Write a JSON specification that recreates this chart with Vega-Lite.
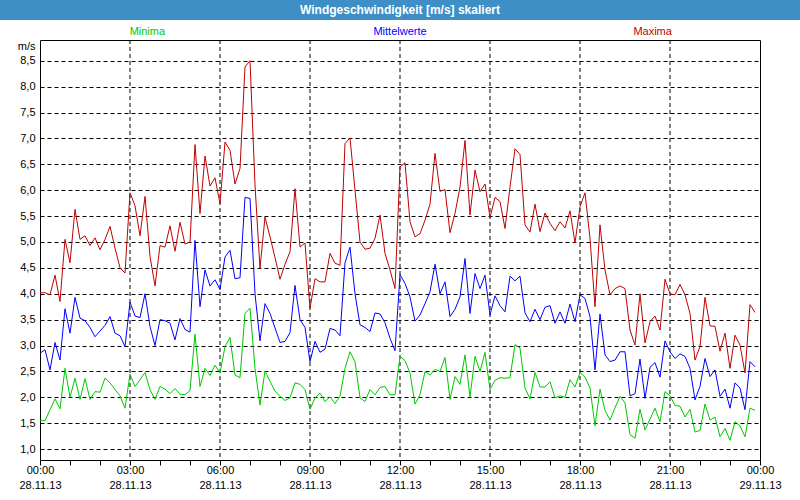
{
"$schema": "https://vega.github.io/schema/vega-lite/v6.json",
"padding": 0,
"background": "white",
"bounds": "flush",
"center": true,
"spacing": 0,
"config": {"font": "Liberation Sans", "view": {"stroke": "black", "strokeWidth": 1}, "axis": {"labelOverlap": false}},
"vconcat": [
{
"width": 800, "height": 20,
"view": {"fill": "#3d8fc6", "stroke": null},
"data": {"values": [{"titel": "Windgeschwindigkeit [m/s] skaliert"}]},
"mark": {"type": "text", "color": "white", "fontWeight": "bold", "fontSize": 12, "font": "Liberation Sans"},
"encoding": {"text": {"field": "titel"}}
},
{
"width": 720, "height": 20,
"view": {"stroke": null},
"data": {"values": [{"serie": "Minima"}, {"serie": "Mittelwerte"}, {"serie": "Maxima"}]},
"mark": {"type": "text", "fontSize": 11, "dy": 2},
"encoding": {
"x": {"field": "serie", "type": "nominal", "sort": ["Minima", "Mittelwerte", "Maxima"], "scale": {"type": "point", "padding": 0.425}, "axis": null},
"text": {"field": "serie"},
"color": {"field": "serie", "type": "nominal", "scale": {"domain": ["Minima", "Mittelwerte", "Maxima"], "range": ["#00c800", "#0000ff", "#c00000"]}, "legend": null}
}
},
{
"width": 720, "height": 420,
"resolve": {"axis": {"x": "independent"}},
"layer": [
{
"data": {"values": [{"g":"2013-11-28T03:00"},{"g":"2013-11-28T06:00"},{"g":"2013-11-28T09:00"},{"g":"2013-11-28T12:00"},{"g":"2013-11-28T15:00"},{"g":"2013-11-28T18:00"},{"g":"2013-11-28T21:00"}]},
"mark": {"type": "rule", "color": "black", "strokeWidth": 1, "strokeDash": [4, 3]},
"encoding": {"x": {"field": "g", "type": "temporal",
 "axis": {"orient": "bottom", "title": null, "domain": false, "grid": false, "labels": false, "tickSize": 5, "tickColor": "black",
  "values": [{"year":2013,"month":11,"date":28,"hours":0},{"year":2013,"month":11,"date":28,"hours":1},{"year":2013,"month":11,"date":28,"hours":2},{"year":2013,"month":11,"date":28,"hours":3},{"year":2013,"month":11,"date":28,"hours":4},{"year":2013,"month":11,"date":28,"hours":5},{"year":2013,"month":11,"date":28,"hours":6},{"year":2013,"month":11,"date":28,"hours":7},{"year":2013,"month":11,"date":28,"hours":8},{"year":2013,"month":11,"date":28,"hours":9},{"year":2013,"month":11,"date":28,"hours":10},{"year":2013,"month":11,"date":28,"hours":11},{"year":2013,"month":11,"date":28,"hours":12},{"year":2013,"month":11,"date":28,"hours":13},{"year":2013,"month":11,"date":28,"hours":14},{"year":2013,"month":11,"date":28,"hours":15},{"year":2013,"month":11,"date":28,"hours":16},{"year":2013,"month":11,"date":28,"hours":17},{"year":2013,"month":11,"date":28,"hours":18},{"year":2013,"month":11,"date":28,"hours":19},{"year":2013,"month":11,"date":28,"hours":20},{"year":2013,"month":11,"date":28,"hours":21},{"year":2013,"month":11,"date":28,"hours":22},{"year":2013,"month":11,"date":28,"hours":23},{"year":2013,"month":11,"date":29,"hours":0}]}}}
},
{
"data": {"values": [
{"t":"2013-11-28T00:00","Minima":1.55,"Mittelwerte":2.85,"Maxima":4.02},
{"t":"2013-11-28T00:10","Minima":1.55,"Mittelwerte":2.92,"Maxima":4.02},
{"t":"2013-11-28T00:20","Minima":1.76,"Mittelwerte":2.53,"Maxima":3.98},
{"t":"2013-11-28T00:30","Minima":1.97,"Mittelwerte":3.06,"Maxima":4.36},
{"t":"2013-11-28T00:40","Minima":1.78,"Mittelwerte":2.72,"Maxima":3.85},
{"t":"2013-11-28T00:50","Minima":2.56,"Mittelwerte":3.71,"Maxima":5.05},
{"t":"2013-11-28T01:00","Minima":2.0,"Mittelwerte":3.24,"Maxima":4.6},
{"t":"2013-11-28T01:10","Minima":2.37,"Mittelwerte":3.93,"Maxima":5.63},
{"t":"2013-11-28T01:20","Minima":1.96,"Mittelwerte":3.53,"Maxima":5.05},
{"t":"2013-11-28T01:30","Minima":2.36,"Mittelwerte":3.48,"Maxima":5.12},
{"t":"2013-11-28T01:40","Minima":1.96,"Mittelwerte":3.35,"Maxima":4.93},
{"t":"2013-11-28T01:50","Minima":2.11,"Mittelwerte":3.17,"Maxima":5.08},
{"t":"2013-11-28T02:00","Minima":2.1,"Mittelwerte":3.28,"Maxima":4.85},
{"t":"2013-11-28T02:10","Minima":2.37,"Mittelwerte":3.39,"Maxima":5.05},
{"t":"2013-11-28T02:20","Minima":2.28,"Mittelwerte":3.56,"Maxima":5.3},
{"t":"2013-11-28T02:30","Minima":2.15,"Mittelwerte":3.24,"Maxima":4.88},
{"t":"2013-11-28T02:40","Minima":2.03,"Mittelwerte":3.19,"Maxima":4.5},
{"t":"2013-11-28T02:50","Minima":1.79,"Mittelwerte":2.98,"Maxima":4.4},
{"t":"2013-11-28T03:00","Minima":2.45,"Mittelwerte":3.84,"Maxima":5.95},
{"t":"2013-11-28T03:10","Minima":2.21,"Mittelwerte":3.57,"Maxima":5.7},
{"t":"2013-11-28T03:20","Minima":2.34,"Mittelwerte":3.54,"Maxima":5.12},
{"t":"2013-11-28T03:30","Minima":2.48,"Mittelwerte":4.0,"Maxima":5.88},
{"t":"2013-11-28T03:40","Minima":2.15,"Mittelwerte":3.37,"Maxima":4.72},
{"t":"2013-11-28T03:50","Minima":1.96,"Mittelwerte":3.0,"Maxima":4.15},
{"t":"2013-11-28T04:00","Minima":2.21,"Mittelwerte":3.5,"Maxima":4.93},
{"t":"2013-11-28T04:10","Minima":2.16,"Mittelwerte":3.48,"Maxima":4.9},
{"t":"2013-11-28T04:20","Minima":2.07,"Mittelwerte":3.43,"Maxima":5.31},
{"t":"2013-11-28T04:30","Minima":2.17,"Mittelwerte":3.11,"Maxima":4.82},
{"t":"2013-11-28T04:40","Minima":2.06,"Mittelwerte":3.52,"Maxima":5.38},
{"t":"2013-11-28T04:50","Minima":2.05,"Mittelwerte":3.31,"Maxima":4.96},
{"t":"2013-11-28T05:00","Minima":2.13,"Mittelwerte":3.26,"Maxima":5.0},
{"t":"2013-11-28T05:10","Minima":3.22,"Mittelwerte":5.03,"Maxima":6.88},
{"t":"2013-11-28T05:20","Minima":2.21,"Mittelwerte":3.75,"Maxima":5.55},
{"t":"2013-11-28T05:30","Minima":2.56,"Mittelwerte":4.46,"Maxima":6.66},
{"t":"2013-11-28T05:40","Minima":2.42,"Mittelwerte":4.15,"Maxima":6.08},
{"t":"2013-11-28T05:50","Minima":2.62,"Mittelwerte":4.27,"Maxima":6.24},
{"t":"2013-11-28T06:00","Minima":2.47,"Mittelwerte":4.08,"Maxima":5.74},
{"t":"2013-11-28T06:10","Minima":2.98,"Mittelwerte":4.71,"Maxima":6.93},
{"t":"2013-11-28T06:20","Minima":3.16,"Mittelwerte":4.84,"Maxima":6.77},
{"t":"2013-11-28T06:30","Minima":2.43,"Mittelwerte":4.29,"Maxima":6.12},
{"t":"2013-11-28T06:40","Minima":2.38,"Mittelwerte":4.31,"Maxima":6.42},
{"t":"2013-11-28T06:50","Minima":3.62,"Mittelwerte":5.86,"Maxima":8.38},
{"t":"2013-11-28T07:00","Minima":3.72,"Mittelwerte":5.84,"Maxima":8.5},
{"t":"2013-11-28T07:10","Minima":2.56,"Mittelwerte":4.0,"Maxima":6.1},
{"t":"2013-11-28T07:20","Minima":1.85,"Mittelwerte":3.09,"Maxima":4.49},
{"t":"2013-11-28T07:30","Minima":2.51,"Mittelwerte":3.81,"Maxima":5.48},
{"t":"2013-11-28T07:40","Minima":2.31,"Mittelwerte":3.62,"Maxima":5.1},
{"t":"2013-11-28T07:50","Minima":2.12,"Mittelwerte":3.34,"Maxima":4.7},
{"t":"2013-11-28T08:00","Minima":2.02,"Mittelwerte":3.06,"Maxima":4.28},
{"t":"2013-11-28T08:10","Minima":1.94,"Mittelwerte":3.08,"Maxima":4.57},
{"t":"2013-11-28T08:20","Minima":1.99,"Mittelwerte":3.25,"Maxima":4.81},
{"t":"2013-11-28T08:30","Minima":2.28,"Mittelwerte":4.16,"Maxima":6.03},
{"t":"2013-11-28T08:40","Minima":2.25,"Mittelwerte":3.5,"Maxima":4.9},
{"t":"2013-11-28T08:50","Minima":2.15,"Mittelwerte":3.35,"Maxima":4.98},
{"t":"2013-11-28T09:00","Minima":1.77,"Mittelwerte":2.69,"Maxima":3.72},
{"t":"2013-11-28T09:10","Minima":1.99,"Mittelwerte":3.08,"Maxima":4.29},
{"t":"2013-11-28T09:20","Minima":2.08,"Mittelwerte":2.87,"Maxima":4.23},
{"t":"2013-11-28T09:30","Minima":1.92,"Mittelwerte":2.93,"Maxima":4.23},
{"t":"2013-11-28T09:40","Minima":2.01,"Mittelwerte":3.33,"Maxima":4.78},
{"t":"2013-11-28T09:50","Minima":1.88,"Mittelwerte":3.3,"Maxima":4.59},
{"t":"2013-11-28T10:00","Minima":2.02,"Mittelwerte":3.19,"Maxima":4.55},
{"t":"2013-11-28T10:10","Minima":2.56,"Mittelwerte":4.6,"Maxima":6.9},
{"t":"2013-11-28T10:20","Minima":2.88,"Mittelwerte":4.9,"Maxima":7.01},
{"t":"2013-11-28T10:30","Minima":2.69,"Mittelwerte":4.0,"Maxima":6.0},
{"t":"2013-11-28T10:40","Minima":1.99,"Mittelwerte":3.4,"Maxima":5.0},
{"t":"2013-11-28T10:50","Minima":1.92,"Mittelwerte":3.35,"Maxima":4.86},
{"t":"2013-11-28T11:00","Minima":2.15,"Mittelwerte":3.27,"Maxima":4.88},
{"t":"2013-11-28T11:10","Minima":2.05,"Mittelwerte":3.63,"Maxima":5.07},
{"t":"2013-11-28T11:20","Minima":2.19,"Mittelwerte":3.61,"Maxima":5.52},
{"t":"2013-11-28T11:30","Minima":2.21,"Mittelwerte":3.44,"Maxima":4.78},
{"t":"2013-11-28T11:40","Minima":2.05,"Mittelwerte":3.14,"Maxima":4.46},
{"t":"2013-11-28T11:50","Minima":2.05,"Mittelwerte":2.9,"Maxima":4.1},
{"t":"2013-11-28T12:00","Minima":2.79,"Mittelwerte":4.37,"Maxima":6.45},
{"t":"2013-11-28T12:10","Minima":2.71,"Mittelwerte":4.2,"Maxima":6.53},
{"t":"2013-11-28T12:20","Minima":2.47,"Mittelwerte":3.94,"Maxima":5.39},
{"t":"2013-11-28T12:30","Minima":1.87,"Mittelwerte":3.47,"Maxima":5.1},
{"t":"2013-11-28T12:40","Minima":2.05,"Mittelwerte":3.59,"Maxima":5.16},
{"t":"2013-11-28T12:50","Minima":2.5,"Mittelwerte":3.81,"Maxima":5.42},
{"t":"2013-11-28T13:00","Minima":2.43,"Mittelwerte":4.04,"Maxima":5.73},
{"t":"2013-11-28T13:10","Minima":2.54,"Mittelwerte":4.57,"Maxima":6.71},
{"t":"2013-11-28T13:20","Minima":2.5,"Mittelwerte":4.0,"Maxima":5.98},
{"t":"2013-11-28T13:30","Minima":2.77,"Mittelwerte":4.23,"Maxima":6.01},
{"t":"2013-11-28T13:40","Minima":1.96,"Mittelwerte":3.56,"Maxima":5.18},
{"t":"2013-11-28T13:50","Minima":2.4,"Mittelwerte":3.7,"Maxima":5.55},
{"t":"2013-11-28T14:00","Minima":2.25,"Mittelwerte":3.94,"Maxima":6.06},
{"t":"2013-11-28T14:10","Minima":2.82,"Mittelwerte":4.68,"Maxima":6.96},
{"t":"2013-11-28T14:20","Minima":2.01,"Mittelwerte":3.62,"Maxima":5.52},
{"t":"2013-11-28T14:30","Minima":2.79,"Mittelwerte":4.39,"Maxima":6.39},
{"t":"2013-11-28T14:40","Minima":2.5,"Mittelwerte":4.1,"Maxima":5.97},
{"t":"2013-11-28T14:50","Minima":2.87,"Mittelwerte":4.36,"Maxima":6.12},
{"t":"2013-11-28T15:00","Minima":2.15,"Mittelwerte":3.59,"Maxima":5.47},
{"t":"2013-11-28T15:10","Minima":2.33,"Mittelwerte":3.96,"Maxima":5.86},
{"t":"2013-11-28T15:20","Minima":2.38,"Mittelwerte":3.77,"Maxima":5.78},
{"t":"2013-11-28T15:30","Minima":2.37,"Mittelwerte":3.65,"Maxima":5.26},
{"t":"2013-11-28T15:40","Minima":2.38,"Mittelwerte":4.34,"Maxima":6.06},
{"t":"2013-11-28T15:50","Minima":3.02,"Mittelwerte":4.25,"Maxima":6.8},
{"t":"2013-11-28T16:00","Minima":2.95,"Mittelwerte":4.34,"Maxima":6.69},
{"t":"2013-11-28T16:10","Minima":2.18,"Mittelwerte":3.63,"Maxima":5.33},
{"t":"2013-11-28T16:20","Minima":1.97,"Mittelwerte":3.46,"Maxima":5.19},
{"t":"2013-11-28T16:30","Minima":2.48,"Mittelwerte":3.7,"Maxima":5.73},
{"t":"2013-11-28T16:40","Minima":2.2,"Mittelwerte":3.5,"Maxima":5.2},
{"t":"2013-11-28T16:50","Minima":2.2,"Mittelwerte":3.74,"Maxima":5.56},
{"t":"2013-11-28T17:00","Minima":2.3,"Mittelwerte":3.77,"Maxima":5.36},
{"t":"2013-11-28T17:10","Minima":1.99,"Mittelwerte":3.43,"Maxima":5.22},
{"t":"2013-11-28T17:20","Minima":2.03,"Mittelwerte":3.65,"Maxima":5.39},
{"t":"2013-11-28T17:30","Minima":2.0,"Mittelwerte":3.43,"Maxima":5.27},
{"t":"2013-11-28T17:40","Minima":2.34,"Mittelwerte":3.8,"Maxima":5.6},
{"t":"2013-11-28T17:50","Minima":2.2,"Mittelwerte":3.46,"Maxima":4.98},
{"t":"2013-11-28T18:00","Minima":2.48,"Mittelwerte":3.98,"Maxima":5.68},
{"t":"2013-11-28T18:10","Minima":2.39,"Mittelwerte":3.91,"Maxima":5.95},
{"t":"2013-11-28T18:20","Minima":2.18,"Mittelwerte":3.56,"Maxima":5.07},
{"t":"2013-11-28T18:30","Minima":1.45,"Mittelwerte":2.53,"Maxima":3.75},
{"t":"2013-11-28T18:40","Minima":2.16,"Mittelwerte":3.61,"Maxima":5.33},
{"t":"2013-11-28T18:50","Minima":1.75,"Mittelwerte":2.82,"Maxima":4.46},
{"t":"2013-11-28T19:00","Minima":1.56,"Mittelwerte":2.69,"Maxima":3.98},
{"t":"2013-11-28T19:10","Minima":1.8,"Mittelwerte":2.72,"Maxima":4.1},
{"t":"2013-11-28T19:20","Minima":2.02,"Mittelwerte":2.88,"Maxima":4.15},
{"t":"2013-11-28T19:30","Minima":1.89,"Mittelwerte":2.88,"Maxima":4.1},
{"t":"2013-11-28T19:40","Minima":1.28,"Mittelwerte":2.03,"Maxima":3.3},
{"t":"2013-11-28T19:50","Minima":1.21,"Mittelwerte":2.07,"Maxima":3.01},
{"t":"2013-11-28T20:00","Minima":1.77,"Mittelwerte":2.74,"Maxima":4.0},
{"t":"2013-11-28T20:10","Minima":1.37,"Mittelwerte":1.98,"Maxima":3.05},
{"t":"2013-11-28T20:20","Minima":1.58,"Mittelwerte":2.58,"Maxima":3.46},
{"t":"2013-11-28T20:30","Minima":1.79,"Mittelwerte":2.67,"Maxima":3.57},
{"t":"2013-11-28T20:40","Minima":1.53,"Mittelwerte":2.39,"Maxima":3.3},
{"t":"2013-11-28T20:50","Minima":2.11,"Mittelwerte":3.09,"Maxima":4.28},
{"t":"2013-11-28T21:00","Minima":2.03,"Mittelwerte":2.88,"Maxima":4.0},
{"t":"2013-11-28T21:10","Minima":1.84,"Mittelwerte":2.75,"Maxima":3.98},
{"t":"2013-11-28T21:20","Minima":1.83,"Mittelwerte":2.84,"Maxima":4.18},
{"t":"2013-11-28T21:30","Minima":1.62,"Mittelwerte":2.79,"Maxima":3.98},
{"t":"2013-11-28T21:40","Minima":1.77,"Mittelwerte":2.56,"Maxima":3.62},
{"t":"2013-11-28T21:50","Minima":1.33,"Mittelwerte":1.95,"Maxima":2.72},
{"t":"2013-11-28T22:00","Minima":1.36,"Mittelwerte":2.21,"Maxima":2.98},
{"t":"2013-11-28T22:10","Minima":1.87,"Mittelwerte":2.75,"Maxima":3.93},
{"t":"2013-11-28T22:20","Minima":1.56,"Mittelwerte":2.4,"Maxima":3.38},
{"t":"2013-11-28T22:30","Minima":1.62,"Mittelwerte":2.53,"Maxima":3.37},
{"t":"2013-11-28T22:40","Minima":1.24,"Mittelwerte":2.02,"Maxima":2.89},
{"t":"2013-11-28T22:50","Minima":1.4,"Mittelwerte":2.16,"Maxima":3.24},
{"t":"2013-11-28T23:00","Minima":1.17,"Mittelwerte":1.79,"Maxima":2.56},
{"t":"2013-11-28T23:10","Minima":1.53,"Mittelwerte":2.28,"Maxima":3.2},
{"t":"2013-11-28T23:20","Minima":1.45,"Mittelwerte":2.18,"Maxima":3.01},
{"t":"2013-11-28T23:30","Minima":1.24,"Mittelwerte":1.76,"Maxima":2.47},
{"t":"2013-11-28T23:40","Minima":1.79,"Mittelwerte":2.69,"Maxima":3.79},
{"t":"2013-11-28T23:50","Minima":1.75,"Mittelwerte":2.59,"Maxima":3.64}
]},
"transform": [{"fold": ["Minima", "Mittelwerte", "Maxima"], "as": ["serie", "wert"]}],
"mark": {"type": "line", "strokeWidth": 1, "clip": true},
"encoding": {
"x": {"field": "t", "type": "temporal",
 "scale": {"domain": [{"year": 2013, "month": 11, "date": 28, "hours": 0}, {"year": 2013, "month": 11, "date": 29, "hours": 0}], "nice": false},
 "axis": {"orient": "bottom", "title": null, "domain": false, "grid": false, "ticks": false,
  "values": [{"year":2013,"month":11,"date":28,"hours":0},{"year":2013,"month":11,"date":28,"hours":3},{"year":2013,"month":11,"date":28,"hours":6},{"year":2013,"month":11,"date":28,"hours":9},{"year":2013,"month":11,"date":28,"hours":12},{"year":2013,"month":11,"date":28,"hours":15},{"year":2013,"month":11,"date":28,"hours":18},{"year":2013,"month":11,"date":28,"hours":21},{"year":2013,"month":11,"date":29,"hours":0}],
  "labelExpr": "[timeFormat(datum.value, '%H:%M'), timeFormat(datum.value, '%d.%m.%y')]",
  "labelOverlap": false, "labelFlush": false, "labelBound": false, "labelFontSize": 11, "labelColor": "black", "labelPadding": 4, "labelLineHeight": 15, "labelBaseline": "top"}},
"y": {"field": "wert", "type": "quantitative",
 "scale": {"domain": [0.79, 8.9], "nice": false, "zero": false},
 "axis": {"values": [1, 1.5, 2, 2.5, 3, 3.5, 4, 4.5, 5, 5.5, 6, 6.5, 7, 7.5, 8, 8.5],
  "labelExpr": "replace(format(datum.value, '.1f'), '.', ',')",
  "domain": false, "ticks": false, "labelPadding": 5, "labelFontSize": 11, "labelColor": "black", "labelOverlap": false, "labelBound": false,
  "grid": true, "gridColor": "black", "gridDash": [4, 3],
  "title": "m/s", "titleAngle": 0, "titleAlign": "right", "titleBaseline": "middle", "titleX": -5, "titleY": 6, "titleFontWeight": "normal", "titleFontSize": 11, "titleColor": "black"}},
"color": {"field": "serie", "type": "nominal",
 "scale": {"domain": ["Minima", "Mittelwerte", "Maxima"], "range": ["#00c000", "#0000ff", "#c00000"]},
 "legend": null}
}
}
]
}
]
}
